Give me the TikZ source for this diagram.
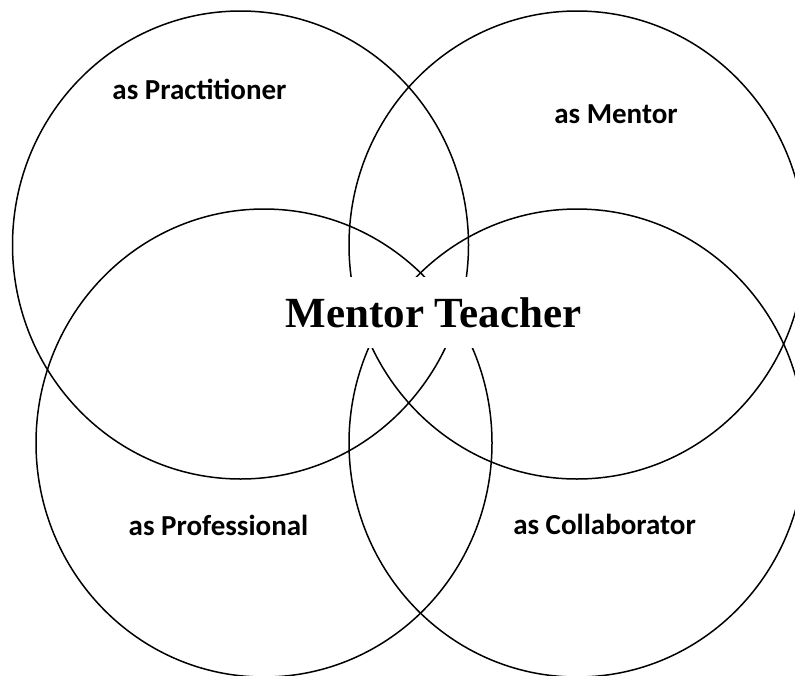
\documentclass[tikz,border=0pt]{standalone}
\usepackage{fontspec}
\setmainfont{Liberation Serif}
\newfontfamily\lblfont{Carlito}

\begin{document}
\begin{tikzpicture}[
    x=1pt, y=-1pt,
    ring/.style={line width=1.5pt, x radius=228, y radius=234},
    lbl/.style={font=\lblfont\bfseries\fontsize{29}{34}\selectfont, anchor=base},
    title/.style={font=\bfseries\fontsize{43}{50}\selectfont, fill=white,
        minimum height=71pt, inner xsep=12pt, anchor=base}
]
\useasboundingbox (0, 0) rectangle (795, 675);
\clip (0, 0) rectangle (795, 675);

\coordinate (practitioner) at (240.5, 245);
\coordinate (mentor) at (577, 245);
\coordinate (professional) at (264, 443);
\coordinate (collaborator) at (577, 443);

\draw[ring] (practitioner) ellipse [];
\draw[ring] (mentor) ellipse [];
\draw[ring] (professional) ellipse [];
\draw[ring] (collaborator) ellipse [];

\node[lbl] (lpractitioner) at (199.5, 99) {as Practitioner};
\node[lbl] (lmentor) at (616, 123) {as Mentor};
\node[lbl] (lprofessional) at (218.5, 535) {as Professional};
\node[lbl] (lcollaborator) at (604.5, 534) {as Collaborator};

\node[title] (centre) at (433.5, 327) {Mentor Teacher};

\end{tikzpicture}
\end{document}
